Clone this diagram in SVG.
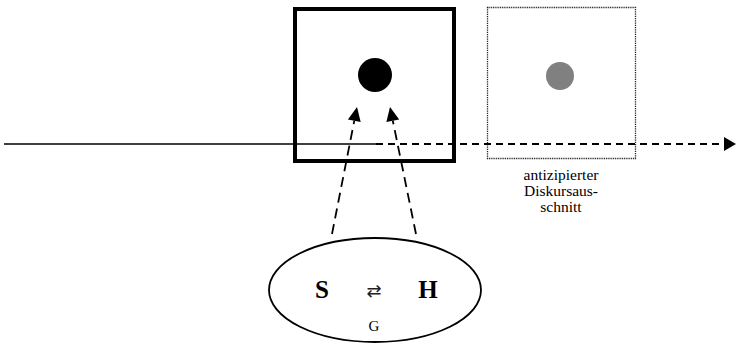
<svg xmlns="http://www.w3.org/2000/svg" width="736" height="346" viewBox="0 0 736 346">
<style>
.lbl{fill:#000;text-anchor:middle;font-family:"Liberation Serif","DejaVu Serif",serif}
.dash{fill:none;stroke:#000;stroke-width:1.8}
.head{fill:#000;stroke:none}
</style>
<g id="current-box">
<rect x="295" y="9" width="159" height="152" fill="none" stroke="#000" stroke-width="4"/>
<circle cx="375" cy="75" r="17" fill="#000"/>
</g>
<g id="anticipated-box">
<rect x="487.5" y="7.5" width="148" height="151" fill="none" stroke="#222" stroke-width="1.3" stroke-dasharray="1 0.8"/>
<circle cx="560" cy="76" r="14" fill="#808080"/>
<text class="lbl" x="561" y="180" font-size="15.5">antizipierter</text>
<text class="lbl" x="561" y="196" font-size="15.5">Diskursaus-</text>
<text class="lbl" x="561" y="212" font-size="15.5">schnitt</text>
</g>
<g id="sh-ellipse">
<ellipse cx="375" cy="290" rx="106" ry="52" fill="#fff" stroke="#000" stroke-width="1.8"/>
<text class="lbl" x="322" y="298" font-size="25" font-weight="bold">S</text>
<text class="lbl" x="428" y="298" font-size="25" font-weight="bold">H</text>
<text x="374" y="297" font-size="18" text-anchor="middle" font-family="DejaVu Sans, sans-serif" fill="#222">⇄</text>
<text class="lbl" x="374" y="331" font-size="15">G</text>
</g>
<g id="connectors">
<line x1="4" y1="144" x2="376" y2="144" stroke="#000" stroke-width="1.5"/>
<line x1="376" y1="144" x2="725" y2="144" stroke="#000" stroke-width="1.8" stroke-dasharray="7 5"/>
<polygon class="head" points="724,137 736,144 724,151"/>
<line class="dash" x1="332" y1="234" x2="354.3" y2="120.7" stroke-dasharray="10 6"/>
<polygon class="head" points="357,107 360.7,122 347.9,119.5"/>
<line class="dash" x1="416" y1="234" x2="392.8" y2="120.7" stroke-dasharray="10 6"/>
<polygon class="head" points="390,107 399.2,119.4 386.4,122"/>
</g>
</svg>
